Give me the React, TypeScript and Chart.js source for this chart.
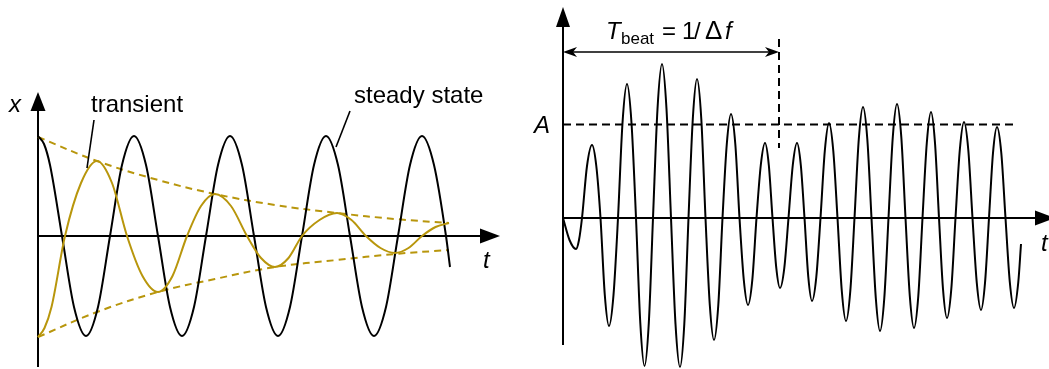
import { useEffect, useRef } from "react";
import { Chart, registerables } from "chart.js";

Chart.register(...registerables);

// ---- Driven oscillator (left panel) ----
// time t and displacement x, both in panel units
const steadyT = [
  0, 0.06, 0.12, 0.24, 0.36, 0.48, 0.6, 0.72, 0.84, 0.96, 1.08, 1.2, 1.32, 1.44, 1.56, 1.68, 1.8, 1.92, 2.04,
  2.16, 2.28, 2.4, 2.52, 2.64, 2.76, 2.88, 3.0, 3.12, 3.24, 3.36, 3.48, 3.6, 3.72, 3.84, 3.96, 4.08, 4.12,
];
const steadyX = [
  1, 0.92, 0.71, 0, -0.71, -1, -0.71, 0, 0.71, 1, 0.71, 0, -0.71, -1, -0.71, 0, 0.71, 1, 0.71, 0, -0.71, -1,
  -0.71, 0, 0.71, 1, 0.71, 0, -0.71, -1, -0.71, 0, 0.71, 1, 0.71, 0, -0.31,
];

const transientT = [
  0, 0.065, 0.135, 0.27, 0.43, 0.59, 0.74, 0.89, 1.045, 1.2, 1.345, 1.49, 1.63, 1.77, 1.93, 2.09, 2.23, 2.37,
  2.505, 2.64, 2.815, 2.99, 3.135, 3.28, 3.425, 3.57, 3.705, 3.84, 3.975, 4.11,
];
const transientX = [
  -1.01, -0.92, -0.71, 0, 0.53, 0.75, 0.53, 0, -0.4, -0.56, -0.4, 0, 0.3, 0.42, 0.3, 0, -0.22, -0.31, -0.22, 0,
  0.16, 0.23, 0.16, 0, -0.12, -0.17, -0.12, 0, 0.09, 0.13,
];

const envelopeT = [0, 0.59, 1.2, 1.77, 2.37, 2.99, 3.57, 4.11];
const envelopeUpper = [0.99, 0.75, 0.56, 0.42, 0.31, 0.23, 0.17, 0.13];
const envelopeLower = [-1.01, -0.76, -0.56, -0.43, -0.31, -0.24, -0.18, -0.14];

// ---- Beats (right panel) ----
const beatT = [
  0,
  0.065, 0.13, 0.16, 0.19, 0.24, 0.29, 0.333, 0.375, 0.418, 0.46, 0.505, 0.55, 0.595, 0.64, 0.685, 0.73,
  0.773, 0.815, 0.858, 0.9, 0.945, 0.99, 1.035, 1.08, 1.125, 1.17, 1.213, 1.255, 1.298, 1.34, 1.383, 1.425,
  1.468, 1.51, 1.553, 1.595, 1.638, 1.68, 1.723, 1.765, 1.808, 1.85, 1.893, 1.935, 1.978, 2.02, 2.058, 2.095,
  2.133, 2.17, 2.213, 2.255, 2.298, 2.34, 2.378, 2.415, 2.453, 2.49, 2.533, 2.575, 2.618, 2.66, 2.703, 2.745,
  2.788, 2.83, 2.873, 2.915, 2.958, 3.0, 3.043, 3.085, 3.128, 3.17, 3.213, 3.255, 3.298, 3.34, 3.383, 3.425,
  3.468, 3.51, 3.553, 3.595, 3.638, 3.68, 3.72, 3.76, 3.8, 3.84, 3.883, 3.925, 3.968, 4.01, 4.053, 4.095,
  4.138, 4.18, 4.22, 4.26, 4.3, 4.34, 4.383, 4.425, 4.468, 4.51, 4.553, 4.58,
];
const beatX = [
  0,
  -0.22, -0.31, -0.22, 0, 0.52, 0.73, 0.52, 0, -0.77, -1.08, -0.77, 0, 0.95, 1.34, 0.95, 0,
  -1.05, -1.48, -1.05, 0, 1.09, 1.54, 1.09, 0, -1.06, -1.49, -1.06, 0, 0.99, 1.39, 0.99, 0,
  -0.87, -1.22, -0.87, 0, 0.74, 1.04, 0.74, 0, -0.62, -0.87, -0.62, 0, 0.53, 0.75, 0.53, 0,
  -0.5, -0.7, -0.5, 0, 0.53, 0.75, 0.53, 0, -0.59, -0.83, -0.59, 0, 0.67, 0.95, 0.67, 0,
  -0.73, -1.03, -0.73, 0, 0.79, 1.11, 0.79, 0, -0.8, -1.13, -0.8, 0, 0.81, 1.14, 0.81, 0,
  -0.78, -1.1, -0.78, 0, 0.75, 1.06, 0.75, 0, -0.71, -1.0, -0.71, 0, 0.68, 0.96, 0.68, 0,
  -0.65, -0.92, -0.65, 0, 0.65, 0.91, 0.65, 0, -0.64, -0.9, -0.64, -0.26,
];
const A_LEVEL = 0.935;
const T_BEAT = 2.16;

const leftLabels = ["x", "transient", "steady state", "t"];
const rightLabels = ["A", "T", "beat", "=", "1", "/", "Δ", "f", "t"];

const FONT = '"Liberation Sans", Arial, Helvetica, sans-serif';
const GOLD = "#b8960c";

const pts = (ts: number[], vs: number[]) => ts.map((t, i) => ({ x: t, y: vs[i] }));

function tri(ctx: CanvasRenderingContext2D, tx: number, ty: number, dx: number, dy: number, len: number, half: number) {
  const bx = tx - dx * len;
  const by = ty - dy * len;
  const nx = -dy;
  const ny = dx;
  ctx.beginPath();
  ctx.moveTo(tx, ty);
  ctx.lineTo(bx + nx * half, by + ny * half);
  ctx.lineTo(bx - nx * half, by - ny * half);
  ctx.closePath();
  ctx.fill();
}

function barb(ctx: CanvasRenderingContext2D, tx: number, ty: number, dx: number) {
  ctx.beginPath();
  ctx.moveTo(tx, ty);
  ctx.lineTo(tx - dx * 14, ty - 5);
  ctx.lineTo(tx - dx * 10, ty);
  ctx.lineTo(tx - dx * 14, ty + 5);
  ctx.closePath();
  ctx.fill();
}

function seg(ctx: CanvasRenderingContext2D, x1: number, y1: number, x2: number, y2: number) {
  ctx.beginPath();
  ctx.moveTo(x1, y1);
  ctx.lineTo(x2, y2);
  ctx.stroke();
}

const leftAxes = {
  id: "leftAxes",
  beforeDatasetsDraw(chart: any) {
    const { ctx } = chart;
    const sx = chart.scales.x;
    const sy = chart.scales.y;
    const px = (t: number) => sx.getPixelForValue(t);
    const py = (v: number) => sy.getPixelForValue(v);
    ctx.save();
    ctx.strokeStyle = "#000";
    ctx.fillStyle = "#000";
    ctx.lineWidth = 2;
    seg(ctx, px(0), py(-1.31), px(0), py(1.3));
    tri(ctx, px(0), py(1.44), 0, -1, 19, 7.5);
    seg(ctx, px(0), py(0), px(4.47), py(0));
    tri(ctx, px(4.62), py(0), 1, 0, 20, 7.5);
    ctx.restore();
  },
  afterDatasetsDraw(chart: any) {
    const { ctx } = chart;
    const sx = chart.scales.x;
    const sy = chart.scales.y;
    const px = (t: number) => sx.getPixelForValue(t);
    const py = (v: number) => sy.getPixelForValue(v);
    ctx.save();
    ctx.strokeStyle = "#000";
    ctx.fillStyle = "#000";
    ctx.lineWidth = 1.6;
    // leader lines
    seg(ctx, 94, 120, 87, 168);
    seg(ctx, 350, 111, 336, 147);
    ctx.textBaseline = "alphabetic";
    ctx.textAlign = "left";
    ctx.font = `italic 24px ${FONT}`;
    ctx.fillText(leftLabels[0], 9, 112);
    ctx.fillText(leftLabels[3], px(4.45), py(0) + 32);
    ctx.font = `24px ${FONT}`;
    ctx.fillText(leftLabels[1], 91, 112);
    ctx.fillText(leftLabels[2], 354, 103);
    ctx.restore();
  },
};

const rightAxes = {
  id: "rightAxes",
  beforeDatasetsDraw(chart: any) {
    const { ctx } = chart;
    const sx = chart.scales.x;
    const sy = chart.scales.y;
    const px = (t: number) => sx.getPixelForValue(t);
    const py = (v: number) => sy.getPixelForValue(v);
    ctx.save();
    ctx.strokeStyle = "#000";
    ctx.fillStyle = "#000";
    ctx.lineWidth = 2;
    seg(ctx, px(0), py(-1.27), px(0), py(1.95));
    tri(ctx, px(0), py(2.11), 0, -1, 20, 7);
    seg(ctx, px(0), py(0), px(4.77), py(0));
    tri(ctx, px(4.92), py(0), 1, 0, 20, 7.5);
    // amplitude level and beat period markers
    ctx.setLineDash([8, 5]);
    seg(ctx, px(0), py(A_LEVEL), px(4.52), py(A_LEVEL));
    seg(ctx, px(T_BEAT), py(1.79), px(T_BEAT), py(0.7));
    ctx.setLineDash([]);
    ctx.lineWidth = 1.6;
    seg(ctx, px(0) + 6, py(1.66), px(T_BEAT) - 6, py(1.66));
    barb(ctx, px(0), py(1.66), -1);
    barb(ctx, px(T_BEAT), py(1.66), 1);
    ctx.restore();
  },
  afterDatasetsDraw(chart: any) {
    const { ctx } = chart;
    const sx = chart.scales.x;
    const sy = chart.scales.y;
    const px = (t: number) => sx.getPixelForValue(t);
    const py = (v: number) => sy.getPixelForValue(v);
    ctx.save();
    ctx.fillStyle = "#000";
    ctx.textBaseline = "alphabetic";
    ctx.textAlign = "left";
    const x0 = px(0);
    ctx.font = `italic 24px ${FONT}`;
    ctx.fillText(rightLabels[0], x0 - 29, py(A_LEVEL) + 8);
    ctx.fillText(rightLabels[1], x0 + 43, 39);
    ctx.fillText(rightLabels[7], x0 + 162, 39);
    ctx.fillText(rightLabels[8], px(4.78), py(0) + 33);
    ctx.font = `17px ${FONT}`;
    ctx.fillText(rightLabels[2], x0 + 58, 44);
    ctx.font = `24px ${FONT}`;
    ctx.fillText(rightLabels[3], x0 + 99, 39);
    ctx.fillText(rightLabels[4], x0 + 119, 39);
    ctx.fillText(rightLabels[5], x0 + 131, 39);
    ctx.font = `26px ${FONT}`;
    ctx.fillText(rightLabels[6], x0 + 142, 39);
    ctx.restore();
  },
};

function Panel({ width, left, build }: { width: number; left: number; build: () => any }) {
  const ref = useRef<HTMLCanvasElement>(null);
  useEffect(() => {
    if (!ref.current) return;
    const chart = new Chart(ref.current, build());
    return () => chart.destroy();
  }, []);
  return (
    <div style={{ position: "absolute", left, top: 0, width, height: 369 }}>
      <canvas ref={ref} width={width} height={369} style={{ display: "block" }} />
    </div>
  );
}

const wave = { pointRadius: 0, fill: false, cubicInterpolationMode: "monotone" };
const envelope = { pointRadius: 0, fill: false, tension: 0.4, borderColor: GOLD, borderWidth: 2, borderDash: [7, 5] };

function leftConfig() {
  return {
    type: "line",
    data: {
      datasets: [
        { ...wave, data: pts(transientT, transientX), borderColor: GOLD, borderWidth: 2, order: 0 },
        { ...wave, data: pts(steadyT, steadyX), borderColor: "#000", borderWidth: 2, order: 1 },
        { ...envelope, data: pts(envelopeT, envelopeUpper), order: 2 },
        { ...envelope, data: pts(envelopeT, envelopeLower), order: 3 },
      ],
    },
    options: {
      responsive: false,
      animation: false,
      events: [],
      layout: { padding: 0 },
      plugins: { legend: { display: false }, tooltip: { enabled: false } },
      scales: {
        x: { type: "linear", display: false, min: -0.38, max: 4.82 },
        y: { type: "linear", display: false, min: -1.33, max: 2.36 },
      },
    },
    plugins: [leftAxes],
  };
}

function rightConfig() {
  return {
    type: "line",
    data: {
      datasets: [{ ...wave, data: pts(beatT, beatX), borderColor: "#000", borderWidth: 2 }],
    },
    options: {
      responsive: false,
      animation: false,
      events: [],
      layout: { padding: 0 },
      plugins: { legend: { display: false }, tooltip: { enabled: false } },
      scales: {
        x: { type: "linear", display: false, min: -0.43, max: 4.86 },
        y: { type: "linear", display: false, min: -1.51, max: 2.18 },
      },
    },
    plugins: [rightAxes],
  };
}

export default function App() {
  return (
    <div style={{ position: "absolute", left: 0, top: 0, width: 1049, height: 369, background: "#fff", overflow: "hidden" }}>
      <Panel width={520} left={0} build={leftConfig} />
      <Panel width={529} left={520} build={rightConfig} />
    </div>
  );
}
